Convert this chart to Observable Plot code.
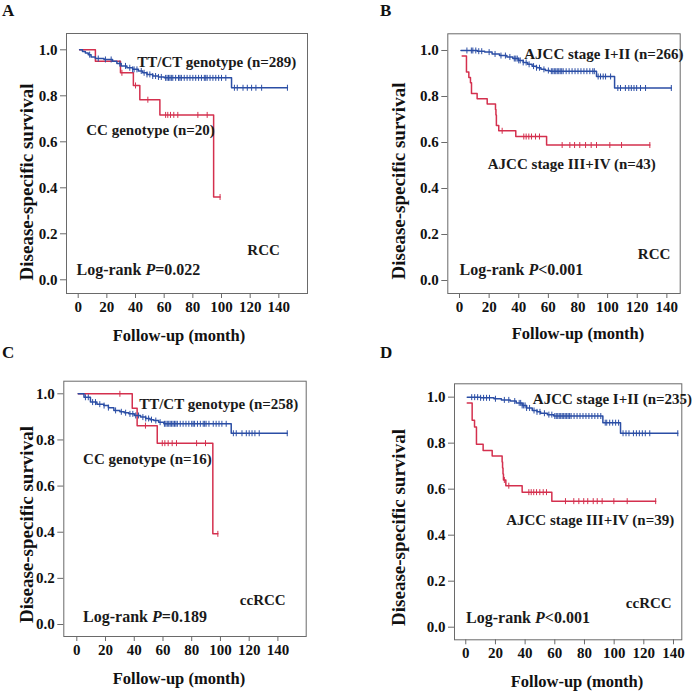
<!DOCTYPE html>
<html><head><meta charset="utf-8">
<script src="https://cdn.jsdelivr.net/npm/d3@7"></script>
<script src="https://cdn.jsdelivr.net/npm/@observablehq/plot@0.6"></script>
<style>
body{margin:0;background:#fff;}
#root{position:relative;width:697px;height:692px;overflow:hidden;background:#fff;}
.panel{position:absolute;}
#overlay{position:absolute;left:0;top:0;pointer-events:none;}
</style></head><body><div id="root"></div>
<script>
// ---------- tick labels & texts ----------
const xTicks = [0, 20, 40, 60, 80, 100, 120, 140];
const yTicks = [0, 0.2, 0.4, 0.6, 0.8, 1.0];
const panelLetters = ["A", "B", "C", "D"];
const cohortLabels = ["RCC", "RCC", "ccRCC", "ccRCC"];
const pValueTexts = ["=0.022", "<0.001", "=0.189", "<0.001"];
const blueGroupLabels = ["TT/CT genotype (n=289)", "AJCC stage I+II (n=266)", "TT/CT genotype (n=258)", "AJCC stage I+II (n=235)"];
const redGroupLabels = ["CC genotype (n=20)", "AJCC stage III+IV (n=43)", "CC genotype (n=16)", "AJCC stage III+IV (n=39)"];
const xAxisTitle = "Follow-up (month)";
const yAxisTitle = "Disease-specific survival";

// ---------- Panel A ----------
const A_blue_time = [1,3,5,7,9,12,18,24,27,30,34,38,42,45,48,52,56,60,107,146];
const A_blue_surv = [1,0.993,0.986,0.979,0.969,0.962,0.958,0.95,0.94,0.93,0.922,0.915,0.908,0.9,0.893,0.886,0.882,0.878,0.835,0.835];
const A_blue_cens = [8,14,19,23,29,33,36,38,39,41,44,46,48,50,52,54,56,58,61,62,63,64,65,66,68,70,71,72,74,76,78,80,82,84,86,88,89,90,92,94,96,98,100,103,109,111,115,118,121,124,128,146];
const A_red_time = [1,12,29.5,38.5,43,57,94.5,99];
const A_red_surv = [1,0.95,0.9,0.845,0.783,0.717,0.36,0.36];
const A_red_cens = [30.5,40,48.6,61,62.5,64.4,66.7,69.5,83.5,90,99];

// ---------- Panel B ----------
const B_blue_time = [1,12,17,22,27,32,36,40,43,46,49,52,55,58,61,92.5,104.7,143];
const B_blue_surv = [1,0.997,0.993,0.985,0.978,0.972,0.965,0.957,0.948,0.94,0.932,0.925,0.918,0.913,0.91,0.887,0.837,0.837];
const B_blue_cens = [5,8,9,11,13,15,20,24,28,31,34,37,38,39,40,41,43,45,47,50,52,54,57,60,62,63,64,65,66,67,68,69,70,72,74,76,78,80,82,84,86,88,90,91,93.6,95.2,97,98.6,102,106.9,108.7,112,114.3,116,117.8,119.6,122.2,125.6,143];
const B_red_time = [1.8,4.7,6.3,7.4,8.1,11.9,18.7,24.3,24.6,24.9,26.5,38,58.8,128.5];
const B_red_surv = [0.976,0.906,0.883,0.86,0.813,0.79,0.767,0.744,0.72,0.674,0.651,0.626,0.589,0.589];
const B_red_cens = [28.8,43.4,45,46.8,48.6,51.3,54,69.3,74.5,77.7,81.2,85.1,88.9,92.5,101.5,109.4,128.5];

// ---------- Panel C ----------
const C_blue_time = [1,5,9.5,14,18.8,22,25.8,30,33,36.2,40,44.4,48,51,53.6,57,60.6,107.5,146.5];
const C_blue_surv = [1,0.985,0.964,0.955,0.949,0.94,0.928,0.922,0.918,0.913,0.906,0.899,0.893,0.888,0.884,0.877,0.87,0.829,0.829];
const C_blue_cens = [6,8,11,13,16,19,22,27,31,34,37,39,41,43,46,48,50,52,55,58,61,62,63,64,65,66,67,68,69,70,72,74,76,78,80,81,82,84,86,88,89,90,92,95,97,99,101,104,109,111,115,118,120,122,124,127,146.5];
const C_red_time = [1,38.6,42,56,94.7,98.2];
const C_red_surv = [1,0.937,0.862,0.786,0.393,0.393];
const C_red_cens = [30,47.8,59.5,61.3,63.6,66.4,69.4,83.4,89.6,98.2];

// ---------- Panel D ----------
const D_blue_time = [1,10,19,24,30,34,38,41,44.8,48,50.4,55,59.3,92.4,104.3,142.9];
const D_blue_surv = [1,0.997,0.993,0.988,0.983,0.975,0.964,0.953,0.942,0.936,0.93,0.924,0.918,0.889,0.843,0.843];
const D_blue_cens = [4,6,8,10,12,14,16,20,26,29,33,36,37,38,39,40,41,43,46,48,50,53,56,58,60,61,62,63,64,65,66,67,68,69,70,71,73,75,77,79,81,83,85,87,89,91,94,95,97,99,101,103,106,108,110,113,115,117,119,121,124,142.9];
const D_red_time = [1,4.3,5.9,7.2,11.7,17.8,24.5,24.8,25.1,25.4,27,38,58,128];
const D_red_surv = [0.974,0.9,0.87,0.795,0.768,0.744,0.718,0.692,0.666,0.64,0.615,0.587,0.548,0.548];
const D_red_cens = [26,29,42.5,44.1,45.8,47.7,49.9,52.2,54.4,67.2,72.8,76.2,79.5,82.2,85.9,88.6,91.9,99.8,108.8,128];

// ---------- layout (positions only) ----------
const BLUE = "#2b4ea5", RED = "#d4304e", FRAME = "#6a6a6a";
const FONT = "Liberation Serif, Times New Roman, serif";
const layout = [
  {left:0, top:0, w:348, h:340, ml:66, mr:41, mt:33, mb:47, xd:[-8.16,160], yd:[-0.0596,1.0709],
   blueAt:[41.2,0.946], redAt:[5.6,0.649], cohortAt:[118,0.128], pAt:[-1.2,0.043],
   letter:[2,16], ylab:[26,182], xlab:[179,335]},
  {left:348, top:0, w:349, h:340, ml:99.3, mr:17.3, mt:33.3, mb:47, xd:[-7.9,149.0], yd:[-0.0565,1.0726],
   blueAt:[43.7,0.986], redAt:[19.1,0.507], cohortAt:[120.4,0.116], pAt:[0,0.046],
   letter:[380,16], ylab:[398,181], xlab:[578,333]},
  {left:0, top:340, w:348, h:352, ml:63.3, mr:42.3, mt:40.7, mb:56, xd:[-9.05,159.7], yd:[-0.052,1.0546],
   blueAt:[43.4,0.957], redAt:[4.4,0.715], cohortAt:[113.5,0.104], pAt:[4.4,0.035],
   letter:[2,358], ylab:[26,524.5], xlab:[179,678]},
  {left:348, top:340, w:349, h:352, ml:106, mr:15.7, mt:43.3, mb:52.7, xd:[-7.6,145.6], yd:[-0.0548,1.058],
   blueAt:[45.2,0.99], redAt:[27.2,0.464], cohortAt:[107.9,0.104], pAt:[0.2,0.039],
   letter:[380,358], ylab:[398.5,527.5], xlab:[577,681.7]}
];
const curves = [
  {bt:A_blue_time, bs:A_blue_surv, bc:A_blue_cens, rt:A_red_time, rs:A_red_surv, rc:A_red_cens},
  {bt:B_blue_time, bs:B_blue_surv, bc:B_blue_cens, rt:B_red_time, rs:B_red_surv, rc:B_red_cens},
  {bt:C_blue_time, bs:C_blue_surv, bc:C_blue_cens, rt:C_red_time, rs:C_red_surv, rc:C_red_cens},
  {bt:D_blue_time, bs:D_blue_surv, bc:D_blue_cens, rt:D_red_time, rs:D_red_surv, rc:D_red_cens}
];

function zip(ts, ss) { return ts.map((t, i) => ({t, s: ss[i]})); }
function stepAt(ts, ss, t) { let v = ss[0]; for (let i = 0; i < ts.length; i++) if (ts[i] <= t) v = ss[i]; return v; }
function censPts(ts, ss, cs) { return cs.map(t => ({t, s: stepAt(ts, ss, t)})); }

const vtick = { draw(ctx, size) { const r = Math.sqrt(size / Math.PI); ctx.moveTo(0, -r); ctx.lineTo(0, r); } };

const root = document.getElementById("root");

layout.forEach((L, i) => {
  const c = curves[i];
  const texts = [
    {x:L.blueAt[0], y:L.blueAt[1], text:blueGroupLabels[i], size:15},
    {x:L.redAt[0], y:L.redAt[1], text:redGroupLabels[i], size:15},
    {x:L.cohortAt[0], y:L.cohortAt[1], text:cohortLabels[i], size:15},
    {x:L.pAt[0], y:L.pAt[1], text:"Log-rank P" + pValueTexts[i], size:16}
  ];
  const plot = Plot.plot({
    width: L.w, height: L.h,
    marginLeft: L.ml, marginRight: L.mr, marginTop: L.mt, marginBottom: L.mb,
    style: {fontFamily: FONT, fontWeight: "bold", fontSize: "15px", color: "#111", background: "transparent"},
    x: {domain: L.xd},
    y: {domain: L.yd},
    marks: [
      Plot.frame({stroke: FRAME, strokeWidth: 1}),
      Plot.axisX({ticks: xTicks, tickSize: 5, tickPadding: 3, stroke: FRAME, fill: "#111", label: null, tickFormat: d => String(d), fontSize: 15}),
      Plot.axisY({ticks: yTicks, tickSize: 6, tickPadding: 3, stroke: FRAME, fill: "#111", label: null, tickFormat: d3.format(".1f"), fontSize: 15}),
      Plot.line(zip(c.rt, c.rs), {x: "t", y: "s", curve: "step-after", stroke: RED, strokeWidth: 1.5}),
      Plot.line(zip(c.bt, c.bs), {x: "t", y: "s", curve: "step-after", stroke: BLUE, strokeWidth: 1.5}),
      Plot.dot(censPts(c.rt, c.rs, c.rc), {x: "t", y: "s", symbol: vtick, r: 3, stroke: RED, fill: "none", strokeWidth: 1}),
      Plot.dot(censPts(c.bt, c.bs, c.bc), {x: "t", y: "s", symbol: vtick, r: 3, stroke: BLUE, fill: "none", strokeWidth: 1}),
      Plot.text(texts, {x: "x", y: "y", text: "text", textAnchor: "start", lineAnchor: "middle", fontSize: d => d.size, fontWeight: "bold", fontFamily: FONT, fill: "#1a1a1a"})
    ]
  });
  plot.classList.add("panel");
  plot.style.left = L.left + "px";
  plot.style.top = L.top + "px";
  // italic P in the log-rank annotation
  d3.select(plot).selectAll("text").each(function () {
    const s = this.textContent;
    if (s.startsWith("Log-rank P")) {
      const rest = s.slice("Log-rank P".length);
      const t = d3.select(this);
      t.text(null);
      t.append("tspan").text("Log-rank ");
      t.append("tspan").attr("font-style", "italic").text("P");
      t.append("tspan").text(rest);
    }
  });
  root.appendChild(plot);
});

// overlay: panel letters and axis titles
const ov = d3.select(root).append("svg").attr("id", "overlay").attr("width", 697).attr("height", 692)
  .attr("font-family", FONT).attr("font-weight", "bold").attr("fill", "#111");
layout.forEach((L, i) => {
  ov.append("text").attr("x", L.letter[0]).attr("y", L.letter[1]).attr("font-size", 17).text(panelLetters[i]);
  ov.append("text").attr("transform", `translate(${L.ylab[0]},${L.ylab[1]}) rotate(-90)`)
    .attr("text-anchor", "middle").attr("dominant-baseline", "central").attr("font-size", 19).text(yAxisTitle);
  ov.append("text").attr("x", L.xlab[0]).attr("y", L.xlab[1])
    .attr("text-anchor", "middle").attr("dominant-baseline", "central").attr("font-size", 16.5).text(xAxisTitle);
});
</script></body></html>
